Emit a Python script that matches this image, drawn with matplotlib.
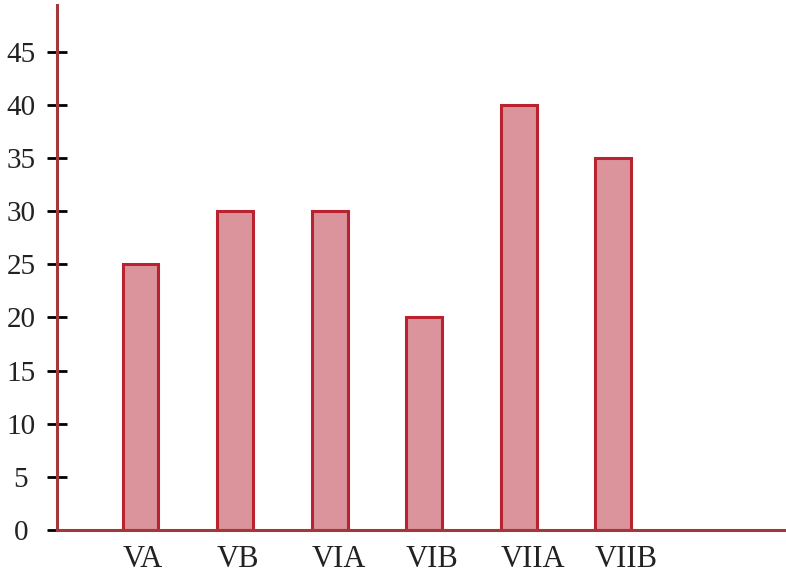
import matplotlib
matplotlib.use("Agg")
import matplotlib.pyplot as plt

categories = ["VA", "VB", "VIA", "VIB", "VIIA", "VIIB"]
values = [25, 30, 30, 20, 40, 35]
yticks = [0, 5, 10, 15, 20, 25, 30, 35, 40, 45]

plt.rcParams['font.family'] = ['Liberation Serif', 'DejaVu Serif']

fig = plt.figure(figsize=(7.86, 5.74), dpi=100)
ax = fig.add_axes([57/786, 1 - 530/574, (786 - 57)/786, (530 - 5)/574])

bar_w = 0.38
x = list(range(len(categories)))
ax.bar(x, values, width=bar_w, color="#DB939C", edgecolor="#B8232F", linewidth=2.2, zorder=2)

ax.set_xlim(-0.884, 6.83)
ax.set_ylim(0, 49.4)
ax.set_yticks(yticks)
ax.set_yticklabels([str(v) for v in yticks], ha="center")
ax.set_xticks([i - bar_w / 2 for i in x])
ax.set_xticklabels(categories, ha="left")

for s in ["top", "right"]:
    ax.spines[s].set_visible(False)
for s in ["left", "bottom"]:
    ax.spines[s].set_color("#A03A3A")
    ax.spines[s].set_linewidth(2.2)

ax.tick_params(axis="y", direction="inout", length=14, width=2, color="black",
               labelsize=21, labelcolor="#222222", pad=19)
ax.tick_params(axis="x", length=0, labelsize=22, labelcolor="#222222", pad=11)

fig.savefig("out.png", dpi=100)
